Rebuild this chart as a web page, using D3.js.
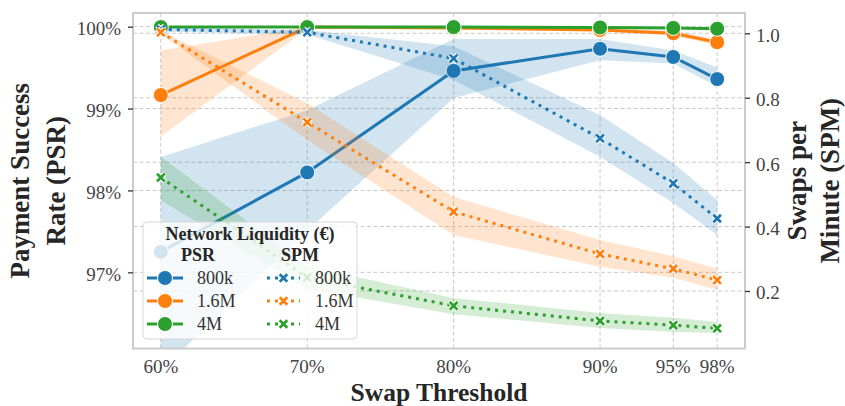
<!DOCTYPE html>
<html>
<head>
<meta charset="utf-8">
<script src="https://cdn.jsdelivr.net/npm/d3@7"></script>
<style>
  body { margin: 0; background: #fff; }
  svg { display: block; }
  text { font-family: "Liberation Serif", "Times New Roman", serif; }
</style>
</head>
<body>
<div id="chart"></div>
<script>
// data
const thresholds = [60, 70, 80, 90, 95, 98];
const xTickLabels = ["60%", "70%", "80%", "90%", "95%", "98%"];
const liquidity = ["800k", "1.6M", "4M"];

// Payment Success Rate (%), mean and CI band
const psr800k   = [97.25, 98.22, 99.46, 99.73, 99.63, 99.36];
const psr800kLo = [95.80, 97.51, 99.13, 99.59, 99.55, 99.27];
const psr800kHi = [98.41, 98.98, 99.85, 99.85, 99.71, 99.50];
const psr16M    = [99.165, 99.995, 99.985, 99.96, 99.92, 99.81];
const psr16MLo  = [98.66, 99.975, 99.97, 99.94, 99.89, 99.77];
const psr16MHi  = [99.71, 100.0, 100.0, 99.98, 99.95, 99.85];
const psr4M     = [99.995, 99.995, 99.995, 99.99, 99.985, 99.975];
const psr4MLo   = [99.985, 99.99, 99.99, 99.98, 99.975, 99.965];
const psr4MHi   = [100.0, 100.0, 100.0, 100.0, 99.995, 99.985];

// Swaps per Minute, mean and CI band
const spm800k   = [1.012, 1.003, 0.922, 0.674, 0.534, 0.425];
const spm800kLo = [1.005, 0.996, 0.855, 0.617, 0.473, 0.374];
const spm800kHi = [1.019, 1.010, 0.960, 0.746, 0.597, 0.482];
const spm16M    = [1.003, 0.724, 0.446, 0.315, 0.269, 0.234];
const spm16MLo  = [0.998, 0.669, 0.374, 0.275, 0.241, 0.203];
const spm16MHi  = [1.008, 0.783, 0.492, 0.358, 0.308, 0.270];
const spm4M     = [0.552, 0.242, 0.154, 0.107, 0.094, 0.084];
const spm4MLo   = [0.482, 0.207, 0.128, 0.085, 0.073, 0.070];
const spm4MHi   = [0.617, 0.277, 0.178, 0.132, 0.117, 0.104];

const psrTicks = [97, 98, 99, 100];
const spmTicks = [0.2, 0.4, 0.6, 0.8, 1.0];

const COLORS = ["#1f77b4", "#ff7f0e", "#2ca02c"];

const FRAME_WIDTH = 845;
const FRAME_HEIGHT = 406;
const MARGINS = {left: 133, right: 100, top: 13, bottom: 57.5};

const svg = d3.select("#chart")
    .append("svg")
    .attr("width", FRAME_WIDTH)
    .attr("height", FRAME_HEIGHT);

const X_SCALE = d3.scaleLinear()
    .domain([58.1, 99.9])
    .range([MARGINS.left, FRAME_WIDTH - MARGINS.right]);
const Y_PSR = d3.scaleLinear()
    .domain([96.07, 100.167])
    .range([FRAME_HEIGHT - MARGINS.bottom, MARGINS.top]);
const Y_SPM = d3.scaleLinear()
    .domain([0.0215, 1.063])
    .range([FRAME_HEIGHT - MARGINS.bottom, MARGINS.top]);

const plotL = MARGINS.left, plotR = FRAME_WIDTH - MARGINS.right;
const plotT = MARGINS.top, plotB = FRAME_HEIGHT - MARGINS.bottom;

svg.append("clipPath").attr("id", "plotclip")
    .append("rect")
    .attr("x", plotL).attr("y", plotT)
    .attr("width", plotR - plotL).attr("height", plotB - plotT);

// grid (both axes)
const grid = svg.append("g")
    .attr("stroke", "#c8c8c8")
    .attr("stroke-width", 1)
    .attr("stroke-dasharray", "4,2.5");
grid.selectAll(".gx").data(thresholds).enter().append("line")
    .attr("x1", d => X_SCALE(d)).attr("x2", d => X_SCALE(d))
    .attr("y1", plotT).attr("y2", plotB);
grid.selectAll(".gl").data(psrTicks).enter().append("line")
    .attr("x1", plotL).attr("x2", plotR)
    .attr("y1", d => Y_PSR(d)).attr("y2", d => Y_PSR(d));
grid.selectAll(".gr").data(spmTicks).enter().append("line")
    .attr("x1", plotL).attr("x2", plotR)
    .attr("y1", d => Y_SPM(d)).attr("y2", d => Y_SPM(d));

const psrSeries = [
    {mean: psr800k, lo: psr800kLo, hi: psr800kHi},
    {mean: psr16M, lo: psr16MLo, hi: psr16MHi},
    {mean: psr4M, lo: psr4MLo, hi: psr4MHi}
];
const spmSeries = [
    {mean: spm800k, lo: spm800kLo, hi: spm800kHi},
    {mean: spm16M, lo: spm16MLo, hi: spm16MHi},
    {mean: spm4M, lo: spm4MLo, hi: spm4MHi}
];

const xMark = "M-3.8,-3.8L3.8,3.8M-3.8,3.8L3.8,-3.8";

function drawX(g, cx, cy, color) {
    g.append("path").attr("d", xMark)
        .attr("transform", "translate(" + cx + "," + cy + ")")
        .attr("stroke", "#fff").attr("stroke-width", 5).attr("fill", "none");
    g.append("path").attr("d", xMark)
        .attr("transform", "translate(" + cx + "," + cy + ")")
        .attr("stroke", color).attr("stroke-width", 2.7).attr("fill", "none");
}

const plot = svg.append("g").attr("clip-path", "url(#plotclip)");

// PSR axis (drawn first)
psrSeries.forEach((s, i) => {
    const area = d3.area()
        .x((d, j) => X_SCALE(thresholds[j]))
        .y0((d, j) => Y_PSR(s.lo[j]))
        .y1((d, j) => Y_PSR(s.hi[j]));
    plot.append("path").datum(s.mean)
        .attr("d", area)
        .attr("fill", COLORS[i]).attr("fill-opacity", 0.2);
});
psrSeries.forEach((s, i) => {
    const line = d3.line()
        .x((d, j) => X_SCALE(thresholds[j]))
        .y(d => Y_PSR(d));
    plot.append("path").datum(s.mean)
        .attr("d", line)
        .attr("fill", "none").attr("stroke", COLORS[i]).attr("stroke-width", 3);
    plot.selectAll(".c" + i).data(s.mean).enter().append("circle")
        .attr("cx", (d, j) => X_SCALE(thresholds[j]))
        .attr("cy", d => Y_PSR(d))
        .attr("r", 7.5)
        .attr("fill", COLORS[i]).attr("stroke", "#fff").attr("stroke-width", 1);
});

// SPM twin axis (drawn on top)
spmSeries.forEach((s, i) => {
    const area = d3.area()
        .x((d, j) => X_SCALE(thresholds[j]))
        .y0((d, j) => Y_SPM(s.lo[j]))
        .y1((d, j) => Y_SPM(s.hi[j]));
    plot.append("path").datum(s.mean)
        .attr("d", area)
        .attr("fill", COLORS[i]).attr("fill-opacity", 0.2);
});
spmSeries.forEach((s, i) => {
    const line = d3.line()
        .x((d, j) => X_SCALE(thresholds[j]))
        .y(d => Y_SPM(d));
    plot.append("path").datum(s.mean)
        .attr("d", line)
        .attr("fill", "none").attr("stroke", COLORS[i]).attr("stroke-width", 3)
        .attr("stroke-dasharray", "3,5");
    s.mean.forEach((d, j) => drawX(plot, X_SCALE(thresholds[j]), Y_SPM(d), COLORS[i]));
});

// frame
svg.append("rect")
    .attr("x", plotL).attr("y", plotT)
    .attr("width", plotR - plotL).attr("height", plotB - plotT)
    .attr("fill", "none").attr("stroke", "#cccccc").attr("stroke-width", 2);

// axes
const leftAxis = svg.append("g")
    .attr("transform", "translate(" + plotL + ",0)")
    .call(d3.axisLeft(Y_PSR).tickValues(psrTicks).tickFormat(d => d + "%")
        .tickSize(5).tickPadding(7));
const rightAxis = svg.append("g")
    .attr("transform", "translate(" + plotR + ",0)")
    .call(d3.axisRight(Y_SPM).tickValues(spmTicks).tickFormat(d3.format(".1f"))
        .tickSize(5).tickPadding(6));
[leftAxis, rightAxis].forEach(a => {
    a.select(".domain").remove();
    a.selectAll(".tick line").attr("stroke", "#333").attr("stroke-width", 1.3);
    a.selectAll(".tick text")
        .attr("font-family", "Liberation Serif, serif")
        .attr("font-size", 19).attr("fill", "#444").attr("dy", "0.42em");
});

svg.append("g").selectAll("text").data(thresholds).enter().append("text")
    .attr("x", d => X_SCALE(d))
    .attr("y", 373)
    .attr("text-anchor", "middle")
    .attr("font-size", 19).attr("fill", "#444")
    .text((d, i) => xTickLabels[i]);

// axis titles
const titleStyle = t => t.attr("font-size", 27).attr("font-weight", "bold")
    .attr("fill", "#262626").attr("text-anchor", "middle");
const midY = (plotT + plotB) / 2;
svg.append("text").call(titleStyle)
    .attr("x", (plotL + plotR) / 2).attr("y", 400.5)
    .attr("font-size", 25.5)
    .text("Swap Threshold");
[["Payment Success", 29], ["Rate (PSR)", 65]].forEach(([t, bx]) => {
    svg.append("text").call(titleStyle)
        .attr("transform", "translate(" + bx + "," + midY + ") rotate(-90)")
        .text(t);
});
[["Swaps per", 806], ["Minute (SPM)", 839]].forEach(([t, bx]) => {
    svg.append("text").call(titleStyle)
        .attr("transform", "translate(" + bx + "," + midY + ") rotate(-90)")
        .text(t);
});

// legend
const lg = svg.append("g");
lg.append("rect")
    .attr("x", 143).attr("y", 222).attr("width", 214).attr("height", 117)
    .attr("rx", 4)
    .attr("fill", "#fff").attr("fill-opacity", 0.8)
    .attr("stroke", "#d6d6d6").attr("stroke-width", 1);
lg.append("text").attr("x", 250).attr("y", 240)
    .attr("text-anchor", "middle").attr("font-size", 18).attr("font-weight", "bold")
    .attr("fill", "#262626").text("Network Liquidity (€)");
lg.append("text").attr("x", 198).attr("y", 261)
    .attr("text-anchor", "middle").attr("font-size", 18).attr("font-weight", "bold")
    .attr("fill", "#262626").text("PSR");
lg.append("text").attr("x", 300).attr("y", 261)
    .attr("text-anchor", "middle").attr("font-size", 18).attr("font-weight", "bold")
    .attr("fill", "#262626").text("SPM");
const rowY = [278, 301, 324];
liquidity.forEach((name, i) => {
    const y = rowY[i];
    lg.append("line").attr("x1", 147).attr("x2", 183).attr("y1", y).attr("y2", y)
        .attr("stroke", COLORS[i]).attr("stroke-width", 3);
    lg.append("circle").attr("cx", 165).attr("cy", y).attr("r", 7.5)
        .attr("fill", COLORS[i]).attr("stroke", "#fff").attr("stroke-width", 1);
    lg.append("text").attr("x", 197).attr("y", y + 6)
        .attr("font-size", 18).attr("fill", "#333").text(name);
    lg.append("line").attr("x1", 267).attr("x2", 300).attr("y1", y).attr("y2", y)
        .attr("stroke", COLORS[i]).attr("stroke-width", 3)
        .attr("stroke-dasharray", "3,5");
    drawX(lg, 283.5, y, COLORS[i]);
    lg.append("text").attr("x", 315).attr("y", y + 6)
        .attr("font-size", 18).attr("fill", "#333").text(name);
});
</script>
</body>
</html>
